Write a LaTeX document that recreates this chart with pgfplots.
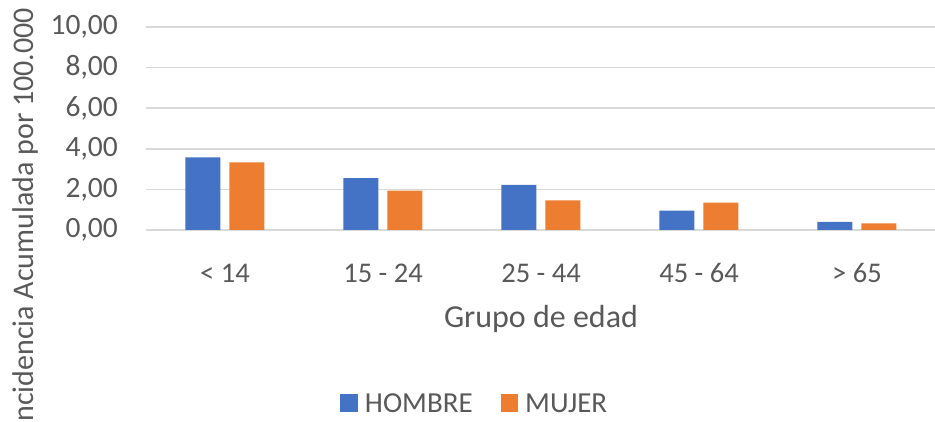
\documentclass[border=0pt]{standalone}
\usepackage{pgfplots}
\pgfplotsset{compat=1.18}
\usepackage{fontspec}
\setmainfont{Carlito}
\definecolor{cblue}{HTML}{4472C4}
\definecolor{corange}{HTML}{ED7D31}
\definecolor{ctext}{HTML}{595959}
\definecolor{cgrid}{HTML}{D9D9D9}
\begin{document}
\begin{tikzpicture}
\begin{axis}[
  at={(0pt,0pt)}, anchor=south west,
  scale only axis,
  width=790pt, height=203pt,
  xmin=-0.5, xmax=4.5,
  ymin=0, ymax=10,
  ybar=9pt, bar width=35pt,
  xtick={0,1,2,3,4},
  xticklabels={{< 14},{15 - 24},{25 - 44},{45 - 64},{> 65}},
  ytick={0,2,4,6,8,10},
  yticklabels={{0,00},{2,00},{4,00},{6,00},{8,00},{10,00}},
  ymajorgrids,
  grid style={cgrid, line width=1.6pt},
  axis line style={draw=none},
  tick style={draw=none},
  xticklabel style={font=\fontsize{28.5}{30}\selectfont, text=ctext, anchor=base, inner sep=0pt, yshift=-48pt},
  yticklabel style={font=\fontsize{29.5}{31}\selectfont, text=ctext, anchor=east, inner sep=0pt, xshift=-28pt},
  xlabel={Grupo de edad},
  xlabel style={at={(axis description cs:0.5,0)}, anchor=base, inner sep=0pt, yshift=-98pt, font=\fontsize{32}{34}\selectfont, text=ctext},
  ylabel={Incidencia Acumulada por 100.000},
  ylabel style={at={(axis description cs:-0.1418,0.0567)}, anchor=base, inner sep=0pt, font=\fontsize{30}{32}\selectfont, text=ctext},
  legend style={at={(axis description cs:0.415,-0.857)}, anchor=center, draw=none, fill=none,
    font=\fontsize{29}{31}\selectfont, text=ctext, nodes={inner sep=0pt},
    /tikz/every odd column/.append style={column sep=7pt},
    /tikz/every even column/.append style={column sep=28pt}},
  legend columns=2,
  legend image code/.code={\fill[#1] (0pt,-7.5pt) rectangle (17.5pt,10.5pt);},
]
\addplot[fill=cblue, draw=none] coordinates {(0,3.58) (1,2.55) (2,2.22) (3,0.96) (4,0.40)};
\addplot[fill=corange, draw=none] coordinates {(0,3.33) (1,1.94) (2,1.46) (3,1.35) (4,0.33)};
\legend{HOMBRE, MUJER}
\end{axis}
\pgfresetboundingbox
\path[use as bounding box] (-146pt,-192pt) rectangle (789pt,230pt);
\end{tikzpicture}
\end{document}
